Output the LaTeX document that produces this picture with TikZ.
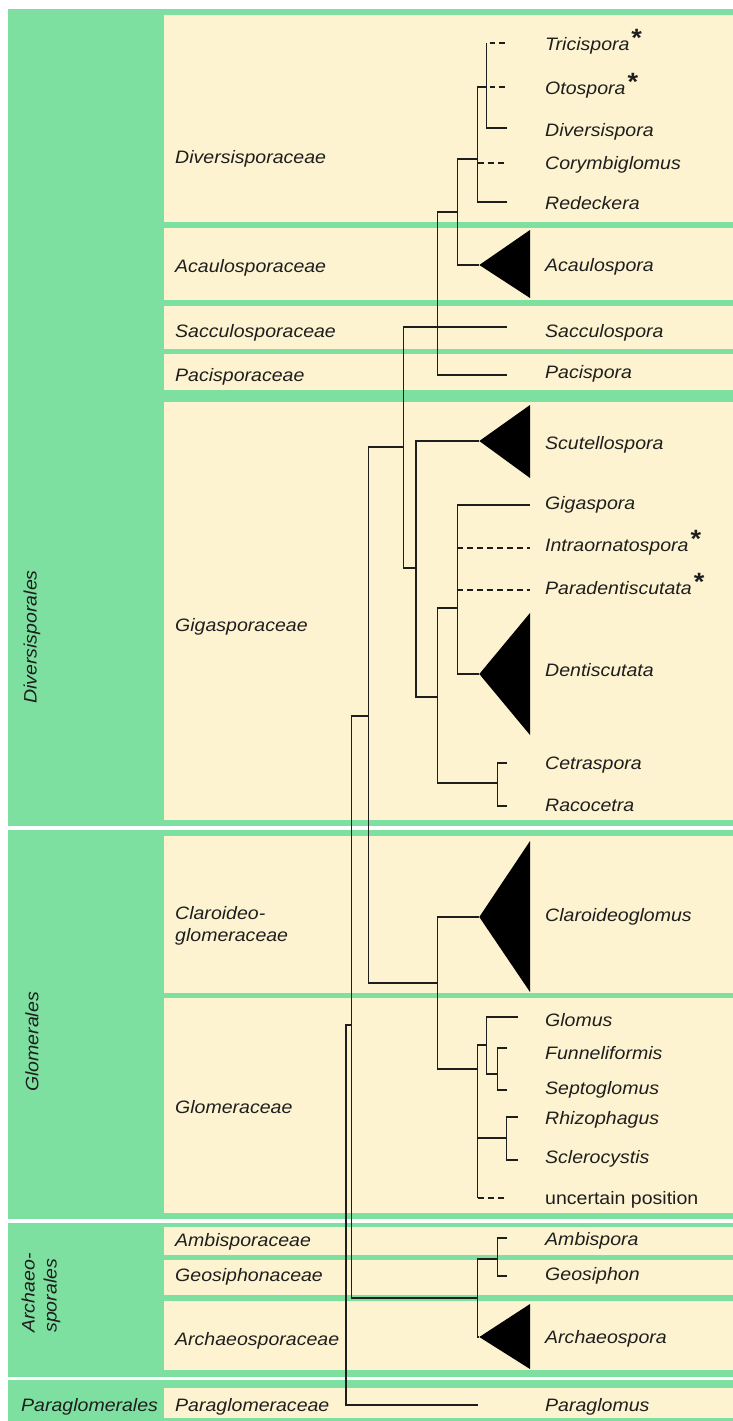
\documentclass[tikz,border=0pt]{standalone}
\usepackage{fontspec}
\setmainfont{Liberation Sans}
\newfontfamily\labfont[FakeStretch=1.085]{Liberation Sans}
\definecolor{pgreen}{RGB}{126,224,160}
\definecolor{pcream}{RGB}{253,243,208}
\definecolor{ink}{RGB}{30,30,30}
\newcommand\stmark{\hspace{2pt}\raisebox{4pt}{\fontsize{25}{25}\selectfont\bfseries\upshape *}}
\begin{document}
\begin{tikzpicture}[x=1pt,y=-1pt,
  br/.style={line width=1.2pt,draw=ink},
  dsh/.style={line width=1.2pt,draw=ink,dash pattern=on 6pt off 4pt},
  sdsh/.style={line width=1.2pt,draw=ink,dash pattern=on 5.5pt off 4pt,dash phase=6.5pt},
  clade/.style={fill=black},
  gen/.style={anchor=base west,inner sep=0pt,text=ink,font=\labfont\fontsize{18}{22}\selectfont\itshape},
  fam/.style={gen},
  ord/.style={inner sep=0pt,text=ink,font=\labfont\fontsize{18}{22}\selectfont\itshape},
]
\useasboundingbox (0,0) rectangle (733,1421);
\fill[white] (0,0) rectangle (733,1421);
\fill[pgreen] (8,9) rectangle (733,1421);
% family panels
\fill[pcream] (164,15) rectangle (733,222);
\fill[pcream] (164,228) rectangle (733,300);
\fill[pcream] (164,306) rectangle (733,349);
\fill[pcream] (164,354) rectangle (733,390);
\fill[pcream] (164,402) rectangle (733,820);
\fill[pcream] (164,836) rectangle (733,993);
\fill[pcream] (164,998) rectangle (733,1213);
\fill[pcream] (164,1227) rectangle (733,1255);
\fill[pcream] (164,1260) rectangle (733,1295);
\fill[pcream] (164,1301) rectangle (733,1370);
\fill[pcream] (164,1388) rectangle (733,1418);
% order separators
\fill[white] (8,826) rectangle (733,830);
\fill[white] (8,1219) rectangle (733,1223);
\fill[white] (8,1377) rectangle (733,1380);

% order labels
\node[ord,rotate=90] (oDiv) at (32,637) {Diversisporales};
\node[ord,rotate=90] (oGlo) at (32,1042) {Glomerales};
\node[ord,rotate=90,align=left] (oArc) at (41,1293) {Archaeo-\\sporales};
\node[gen] (oPgl) at (21,1411) {Paraglomerales};

% family labels
\node[fam] (fDiv) at (175,163) {Diversisporaceae};
\node[fam] (fAca) at (175,272) {Acaulosporaceae};
\node[fam] (fSac) at (175,337) {Sacculosporaceae};
\node[fam] (fPac) at (175,381) {Pacisporaceae};
\node[fam] (fGig) at (175,631) {Gigasporaceae};
\node[fam,anchor=west,align=left] (fCla) at (175,926) {Claroideo-\\glomeraceae};
\node[fam] (fGlo) at (175,1113) {Glomeraceae};
\node[fam] (fAmb) at (175,1246) {Ambisporaceae};
\node[fam] (fGeo) at (175,1281) {Geosiphonaceae};
\node[fam] (fArc) at (175,1345) {Archaeosporaceae};
\node[fam] (fPgl) at (175,1411) {Paraglomeraceae};

% genus labels
\node[gen] (gTri) at (545,51) {Tricispora\stmark};
\node[gen] (gOto) at (545,94) {Otospora\stmark};
\node[gen] (gDiv) at (545,136) {Diversispora};
\node[gen] (gCor) at (545,169) {Corymbiglomus};
\node[gen] (gRed) at (545,209) {Redeckera};
\node[gen] (gAca) at (545,271) {Acaulospora};
\node[gen] (gSac) at (545,337) {Sacculospora};
\node[gen] (gPac) at (545,378) {Pacispora};
\node[gen] (gScu) at (545,449) {Scutellospora};
\node[gen] (gGig) at (545,509) {Gigaspora};
\node[gen] (gInt) at (545,551) {Intraornatospora\stmark};
\node[gen] (gPar) at (545,594) {Paradentiscutata\stmark};
\node[gen] (gDen) at (545,676) {Dentiscutata};
\node[gen] (gCet) at (545,769) {Cetraspora};
\node[gen] (gRac) at (545,811) {Racocetra};
\node[gen] (gCla) at (545,921) {Claroideoglomus};
\node[gen] (gGlo) at (545,1026) {Glomus};
\node[gen] (gFun) at (545,1059) {Funneliformis};
\node[gen] (gSep) at (545,1094) {Septoglomus};
\node[gen] (gRhi) at (545,1124) {Rhizophagus};
\node[gen] (gScl) at (545,1163) {Sclerocystis};
\node[gen,font=\labfont\fontsize{18}{22}\selectfont\upshape] (gUnc) at (545,1204) {uncertain position};
\node[gen] (gAmb) at (545,1245) {Ambispora};
\node[gen] (gGeo) at (545,1280) {Geosiphon};
\node[gen] (gArc) at (545,1343) {Archaeospora};
\node[gen] (gPgl) at (545,1411) {Paraglomus};

% tips
\coordinate (Tri) at (507,43);
\coordinate (Oto) at (507,87);
\coordinate (Div) at (507,128);
\coordinate (Cor) at (507,163);
\coordinate (Red) at (507,202);
\coordinate (Aca) at (479.3,265);
\coordinate (Sac) at (507,327);
\coordinate (Pac) at (507,375);
\coordinate (Scu) at (479.3,441);
\coordinate (Gig) at (530,505);
\coordinate (Int) at (530,548);
\coordinate (Par) at (530,590);
\coordinate (Den) at (479.3,674);
\coordinate (Cet) at (507,763);
\coordinate (Rac) at (507,806);
\coordinate (Cla) at (479.3,917);
\coordinate (Glo) at (518.3,1017);
\coordinate (Fun) at (507,1048);
\coordinate (Sep) at (507,1090);
\coordinate (Rhi) at (518.3,1117);
\coordinate (Scl) at (518.3,1160);
\coordinate (Unc) at (507,1198);
\coordinate (Amb) at (507,1238);
\coordinate (Geo) at (507,1276);
\coordinate (Arc) at (479.3,1337);
\coordinate (Pgl) at (478.3,1405);

% internal nodes
\coordinate (n1) at (486.7,87);
\coordinate (n2) at (477.7,159);
\coordinate (n3) at (457.3,212);
\coordinate (n4) at (437.3,327);
\coordinate (n5) at (403.3,447);
\coordinate (n6) at (416,568);
\coordinate (n7) at (437.3,697);
\coordinate (n8) at (457.3,608);
\coordinate (n9) at (497.3,783);
\coordinate (n10) at (368.3,716);
\coordinate (n11) at (437.3,983);
\coordinate (n12) at (477.7,1069);
\coordinate (n13) at (486.7,1045);
\coordinate (n14) at (497.3,1074);
\coordinate (n15) at (506.7,1138);
\coordinate (n16) at (351.7,1025);
\coordinate (n17) at (477.7,1298);
\coordinate (n18) at (497.3,1259);
\coordinate (root) at (346,1215);

% collapsed clades
\fill[clade] (Aca) -- (530,230) -- (530,298) -- cycle;
\fill[clade] (Scu) -- (530,405) -- (530,478) -- cycle;
\fill[clade] (Den) -- (530,613) -- (530,735) -- cycle;
\fill[clade] (Cla) -- (530,841) -- (530,992) -- cycle;
\fill[clade] (Arc) -- (530,1304) -- (530,1369) -- cycle;

% branches
\draw[br] (n1) |- (Div);
\draw[br] (n1) -- (n1 |- Tri);
\draw[sdsh] (n1 |- Tri) -- (Tri);
\draw[sdsh] (n1) -- (Oto);
\draw[br] (n2) |- (n1);
\draw[br] (n2) |- (Red);
\draw[br] (n2) -- (n2 |- Cor);
\draw[dsh] (n2 |- Cor) -- (Cor);
\draw[br] (n3) |- (n2);
\draw[br] (n3) |- (Aca);
\draw[br] (n4) |- (n3);
\draw[br] (n4) |- (Sac);
\draw[br] (n4) |- (Pac);
\draw[br] (n5) |- (n4);
\draw[br] (n5) |- (n6);
\draw[br] (n6) |- (Scu);
\draw[br] (n6) |- (n7);
\draw[br] (n7) |- (n8);
\draw[br] (n7) |- (n9);
\draw[br] (n8) |- (Gig);
\draw[br] (n8) |- (Den);
\draw[dsh] (n8 |- Int) -- (Int);
\draw[dsh] (n8 |- Par) -- (Par);
\draw[br] (n9) |- (Cet);
\draw[br] (n9) |- (Rac);
\draw[br] (n10) |- (n5);
\draw[br] (n10) |- (n11);
\draw[br] (n11) |- (Cla);
\draw[br] (n11) |- (n12);
\draw[br] (n12) |- (n13);
\draw[br] (n12) |- (n15);
\draw[br] (n12) -- (n12 |- Unc);
\draw[dsh] (n12 |- Unc) -- (Unc);
\draw[br] (n13) |- (Glo);
\draw[br] (n13) |- (n14);
\draw[br] (n14) |- (Fun);
\draw[br] (n14) |- (Sep);
\draw[br] (n15) |- (Rhi);
\draw[br] (n15) |- (Scl);
\draw[br] (n16) |- (n10);
\draw[br] (n16) |- (n17);
\draw[br] (n17) |- (n18);
\draw[br] (n17) |- (Arc);
\draw[br] (n18) |- (Amb);
\draw[br] (n18) |- (Geo);
\draw[br] (root) |- (n16);
\draw[br] (root) |- (Pgl);
\end{tikzpicture}
\end{document}
